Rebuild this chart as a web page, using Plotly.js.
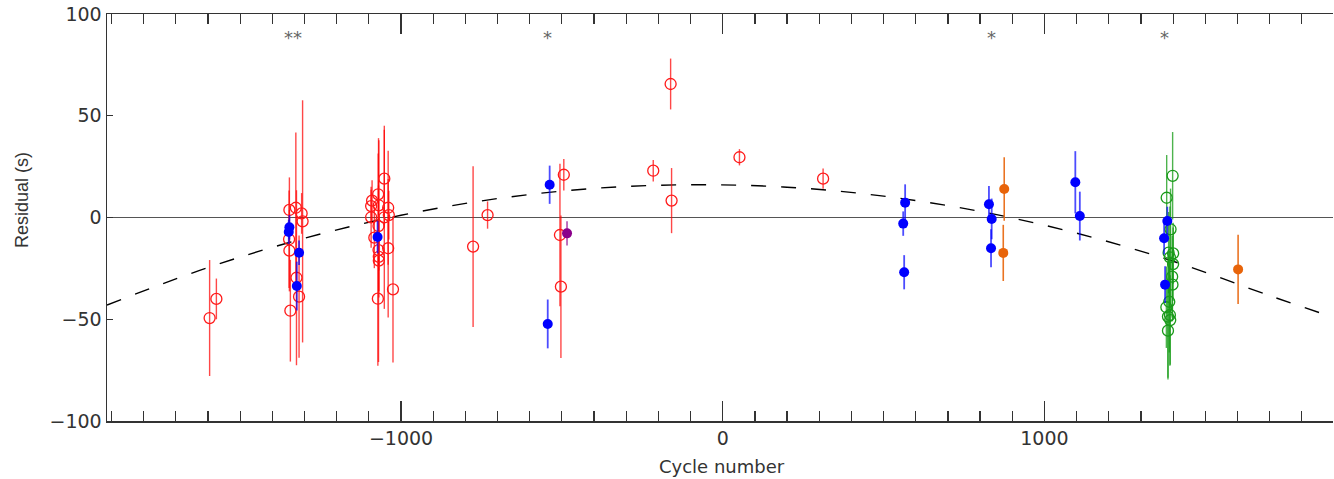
<!DOCTYPE html>
<html>
<head>
<meta charset="utf-8">
<script src="https://cdn.plot.ly/plotly-3.0.1.min.js"></script>
<style>html,body{margin:0;padding:0;background:#fff;}#chart{width:1334px;height:479px;}</style>
</head>
<body>
<div id="chart"></div>
<script>
// ---- Data ----
// Red open circles
const redX = [-1595, -1574, -1347, -1327, -1309, -1306, -1348, -1347, -1325, -1317, -1344,
  -1052, -1071, -1090, -1093, -1069, -1040, -1038, -1052, -1093, -1070, -1083, -1040, -1070, -1069, -1069, -1072, -1025,
  -776, -731, -494, -506, -503, -216, -162, -159, 52, 312];
const redY = [-49.4, -40, 3.7, 4.8, 2, -1.9, -10.7, -16.3, -29.6, -38.9, -45.8,
  19.1, 11.4, 8.3, 5.6, 6, 4.8, 1.2, 0.1, 0.1, -4.2, -9.9, -15.1, -16, -19.3, -21.2, -39.9, -35.3,
  -14.3, 1.2, 21, -8.6, -34, 23, 65.6, 8.3, 29.6, 19.1];
const redErr = [28.5, 10, 16, 37, 10, 59.5, 24, 20, 43, 30, 25,
  24, 20, 10, 8, 32, 28, 12, 45, 15, 20, 15, 34, 55, 20, 15, 33, 36,
  39.5, 6.7, 7.7, 35, 35, 5.3, 12.5, 16, 4, 5];

// Blue filled circles
const blueX = [-1347, -1349, -1317, -1324, -1073, -538, -544, 567, 561, 564, 827.5, 836, 834, 1096, 1110, 1382, 1372, 1375];
const blueY = [-4.8, -7.1, -17.3, -33.7, -9.6, 16.1, -52.3, 7.3, -3, -26.9, 6.5, -0.7, -15.1, 17.3, 0.7, -1.7, -10.2, -33];
const blueErr = [6, 6, 6, 12, 8, 9.4, 12, 9, 6, 8.4, 9, 10, 9.3, 15.3, 12, 7, 8, 9];

// Orange filled circles
const orangeX = [875, 872, 1602];
const orangeY = [14, -17.4, -25.5];
const orangeErr = [15.6, 13.8, 17];

// Purple filled circle
const purpleX = [-484];
const purpleY = [-7.8];
const purpleErr = [6];

// Green open circles
const greenX = [1398.5, 1380, 1392, 1400, 1386, 1400, 1390, 1397, 1398, 1388, 1379, 1390, 1384, 1391, 1384];
const greenY = [20.5, 9.7, -5.8, -17.6, -17.3, -22.9, -19.6, -29.1, -33, -41.4, -44.1, -47.9, -48.7, -50.4, -55.6];
const greenErr = [21.5, 21, 20, 15, 20, 18, 25, 20, 18, 25, 20, 25, 30, 22, 24];

// Dashed fit curve
const fitX = [-1914, -1600, -1300, -1000, -700, -400, -100, 200, 500, 800, 1100, 1400, 1700, 1897];
const fitY = [-43, -24.6, -10.2, 1.1, 9.3, 14.3, 16.1, 14.9, 10.5, 3.0, -7.7, -21.5, -38.4, -49];

// Significance markers along the top
const starX = [-1336, -546, 834, 1372];
const starText = ['**', '*', '*', '*'];
const starY = 88.7;

// Axis ticks
const xTickVals = [-1000, 0, 1000];
const xTickText = ['\u22121000', '0', '1000'];
const yTickVals = [-100, -50, 0, 50, 100];
const yTickText = ['\u2212100', '\u221250', '0', '50', '100'];

const WIDE = 'DejaVu Sans, Verdana, sans-serif';
const NARROW = 'Liberation Sans, Arial, sans-serif';

function errTrace(x, y, e, color, barColor, thick, symbol, size, open) {
  return {
    type: 'scatter', mode: 'markers', x: x, y: y,
    error_y: {type: 'data', array: e, visible: true, color: barColor, thickness: thick, width: 0},
    marker: {symbol: symbol, size: size, color: color,
             line: {color: color, width: open ? 1.3 : 0}},
    hoverinfo: 'x+y', showlegend: false
  };
}

const traces = [
  {type: 'scatter', mode: 'lines', x: fitX, y: fitY,
   line: {color: '#000', width: 1.4, dash: '15px,15px', shape: 'spline'},
   hoverinfo: 'skip', showlegend: false},
  errTrace(redX, redY, redErr, '#ff1a1a', 'rgba(255,0,0,0.72)', 1.4, 'circle-open', 11, true),
  errTrace(greenX, greenY, greenErr, '#1a9a1a', 'rgba(17,153,17,0.75)', 1.4, 'circle-open', 11, true),
  errTrace(blueX, blueY, blueErr, '#0000ff', 'rgba(0,0,255,0.7)', 1.8, 'circle', 10, false),
  errTrace(orangeX, orangeY, orangeErr, '#e8640a', 'rgba(232,100,10,0.9)', 1.6, 'circle', 10, false),
  errTrace(purpleX, purpleY, purpleErr, '#8b008b', 'rgba(139,0,139,0.7)', 1.6, 'circle', 10, false)
];

const annotations = starX.map((x, i) => ({
  x: x, y: starY, xref: 'x', yref: 'y', text: starText[i], showarrow: false,
  font: {family: WIDE, size: 18, color: '#666'}
}));
annotations.push({
  text: 'Cycle number', xref: 'paper', yref: 'paper', x: 0.5016, y: -0.113,
  xanchor: 'center', yanchor: 'middle', showarrow: false,
  font: {family: WIDE, size: 18, color: '#333'}
});
annotations.push({
  text: 'Residual (s)', xref: 'paper', yref: 'paper', x: -0.0693, y: 0.543,
  xanchor: 'center', yanchor: 'middle', textangle: -90, showarrow: false,
  font: {family: NARROW, size: 18, color: '#333'}
});

const layout = {
  width: 1334, height: 479,
  margin: {l: 107, r: 1, t: 14, b: 58},
  paper_bgcolor: '#fff', plot_bgcolor: '#fff',
  font: {family: WIDE, size: 19, color: '#333'},
  xaxis: {
    range: [-1914, 1897], showgrid: false, zeroline: false,
    showline: true, linecolor: '#333', linewidth: 1.5, mirror: 'ticks',
    ticks: 'inside', ticklen: 20, tickwidth: 1.2, tickcolor: '#333',
    tickvals: xTickVals, ticktext: xTickText,
    tickfont: {family: WIDE, size: 19, color: '#333'},
    minor: {ticks: 'inside', ticklen: 10, tickwidth: 1.2, tickcolor: '#333', dtick: 100, tick0: 0, showgrid: false}
  },
  yaxis: {
    range: [-100, 100], showgrid: false,
    zeroline: true, zerolinecolor: '#555', zerolinewidth: 1.8,
    showline: true, linecolor: '#333', linewidth: 1.5, mirror: false,
    ticks: 'inside', ticklen: 6, tickwidth: 1.2, tickcolor: '#333',
    tickvals: yTickVals, ticktext: yTickText,
    tickfont: {family: WIDE, size: 19, color: '#333'}
  },
  annotations: annotations
};

Plotly.newPlot('chart', traces, layout, {displayModeBar: false, staticPlot: true});
</script>
</body>
</html>
